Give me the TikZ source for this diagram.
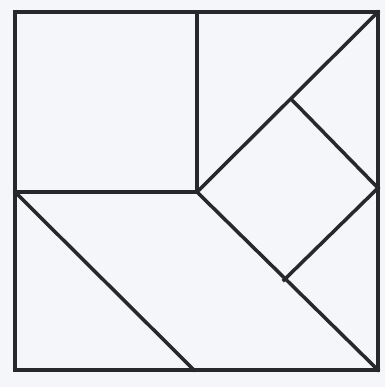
\documentclass[tikz,border=0pt]{standalone}
\usepackage{tikz}
\usetikzlibrary{calc}
\definecolor{paperwhite}{RGB}{245, 246, 250}
\definecolor{inkgray}{RGB}{40, 40, 42}
\tikzset{
  piece/.style={draw=inkgray, line width=3pt, line join=miter, line cap=rect},
}
\begin{document}
\begin{tikzpicture}[x=0.03cm, y=-0.03cm]
  % paper and bounding box
  \fill[paperwhite] (0,0) rectangle (385,387);
  \useasboundingbox (0,0) rectangle (385,387);

  % corners of the square
  \coordinate (tl) at (15,12);
  \coordinate (tr) at (378,12);
  \coordinate (br) at (378,370);
  \coordinate (bl) at (15,370);

  % inner points
  \coordinate (topmid) at (197,12);
  \coordinate (centre) at (197,192);
  \coordinate (leftmid) at (15,192);
  \coordinate (dtop) at (292,100);
  \coordinate (dright) at (378,188);
  \coordinate (dbottom) at (284,280);
  \coordinate (botmid) at (194,370);

  % outer square
  \draw[piece] (tl) rectangle (br);

  % small square top left
  \draw[piece] (topmid) -- (centre) -- (leftmid);

  % long diagonals
  \draw[piece] (tr) -- (centre) -- (br);
  \draw[piece] (leftmid) -- (botmid);

  % diamond
  \draw[piece] (dtop) -- (dright) -- (dbottom);
\end{tikzpicture}
\end{document}
